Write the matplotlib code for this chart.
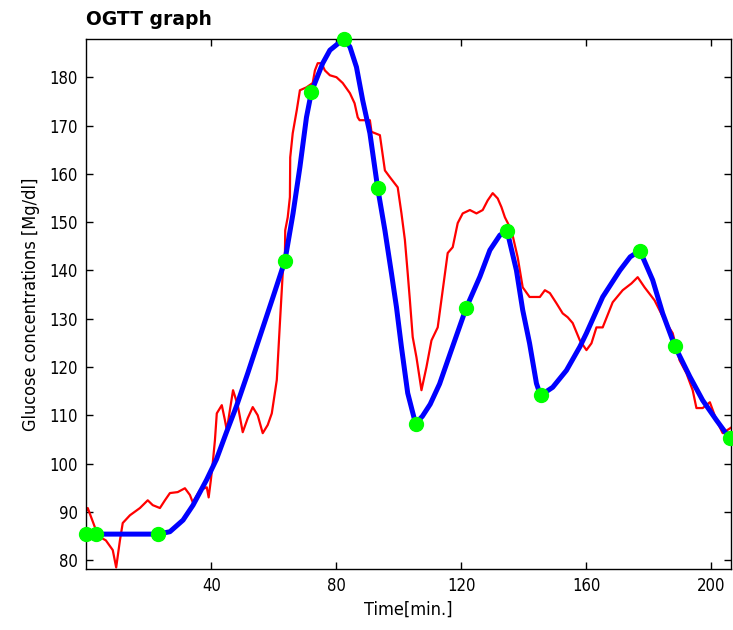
import matplotlib
matplotlib.use('Agg')
import matplotlib.pyplot as plt
from matplotlib import font_manager

# measured glucose trace (red)
time_meas = [0.2, 0.4, 2.7, 4.3, 6.2, 8.4, 9.5, 10.7, 11.6, 13.9, 17.1, 19.6, 21.2, 23.5,
             25.1, 26.7, 29.2, 31.5, 33.1, 34.0, 36.3, 38.5, 39.1, 39.8, 40.4, 41.1, 41.7,
             43.3, 44.3, 44.9, 45.9, 46.9, 48.4, 50.0, 51.6, 53.2, 54.8, 56.4, 58.0, 59.3,
             60.9, 61.9, 62.8, 63.5, 63.6, 64.4, 65.1, 65.2, 66.0, 67.3, 68.3, 70.4, 72.4,
             73.1, 74.0, 75.2, 76.3, 77.9, 80.0, 82.0, 84.3, 85.8, 86.8, 87.4, 90.7, 91.2,
             93.9, 95.5, 97.1, 99.6, 100.8, 101.9, 102.8, 103.5, 104.4, 105.6, 107.2, 108.8,
             110.4, 112.4, 114.0, 115.6, 117.2, 118.8, 120.4, 122.7, 124.8, 126.8, 128.4,
             130.0, 131.6, 132.8, 133.9, 136.0, 138.0, 139.6, 141.8, 145.1, 146.7, 148.3,
             150.4, 152.4, 154.0, 155.6, 157.9, 160.0, 161.6, 163.2, 165.2, 168.4, 171.6,
             174.4, 176.4, 178.6, 181.8, 185.0, 187.6, 189.8, 192.0, 194.0, 195.2, 197.2,
             199.5, 201.6, 203.6, 206.4]
gluc_meas = [90.4, 90.8, 86.8, 84.8, 84.1, 82.1, 78.5, 84.1, 87.7, 89.3, 90.8, 92.4, 91.4, 90.8,
             92.4, 93.9, 94.1, 94.9, 93.5, 92.0, 94.5, 95.1, 93.0, 96.6, 100.1, 104.8, 110.4,
             112.1, 109.0, 106.9, 111.1, 115.2, 112.1, 106.5, 109.4, 111.7, 110.0, 106.3, 108.0, 110.4,
             117.3, 129.1, 139.4, 142.7, 148.3, 151.0, 155.2, 163.4, 168.4, 173.2, 177.3, 177.9, 178.8,
             181.4, 182.9, 182.9, 181.4, 180.4, 180.0, 178.8, 176.7, 174.6, 171.7, 171.1, 171.1, 168.7,
             168.0, 160.7, 159.3, 157.2, 151.8, 146.3, 139.4, 133.8, 126.2, 122.0, 115.2, 120.0,
             125.5, 128.2, 135.9, 143.6, 144.8, 149.8, 151.8, 152.5, 151.8, 152.5, 154.5,
             156.0, 154.9, 153.1, 151.0, 148.3, 142.7, 136.5, 134.5, 134.5, 135.9, 135.3,
             133.2, 131.1, 130.3, 129.1, 125.5, 123.5, 124.9, 128.2, 128.2, 133.4, 135.9,
             137.3, 138.6, 136.5, 133.8, 129.7, 127.0, 121.4, 118.7, 115.2, 111.5, 111.5,
             112.7, 109.0, 106.3, 107.5]

# fitted curve (blue)
time_fit = [0, 3, 23, 26.7, 30.9, 34.1, 38.4, 41.6, 44.8, 48, 51.6, 54.4, 59.7, 63.5, 66.1,
            68.3, 70.4, 72, 75.6, 77.9, 82.3, 84.3, 86.4, 88.4, 90.7, 93.2, 95.5, 97.6, 99.2,
            100.8, 102.8, 105.3, 107.5, 110, 113, 116.5, 121.5, 125.9, 129.1, 132.3, 134.6,
            137.6, 139.6, 141.8, 144, 145.3, 149.2, 153.6, 157.9, 160, 165.2, 170.7, 174,
            177.1, 181.2, 184.4, 188.3, 193.1, 197.2, 201.6, 205.9]
gluc_fit = [85.4, 85.4, 85.4, 85.9, 88.3, 91.4, 96.6, 100.9, 106.5, 111.9, 118.7, 124.2, 134.5, 142, 151.8,
            161.4, 171.7, 177, 182.9, 185.6, 187.9, 186.3, 182.1, 175.2, 168.4, 157, 148.3, 139.4, 132.4,
            124.1, 114.6, 108.3, 109.8, 112.3, 116.5, 123, 132.2, 138.7, 144.2, 147.3, 148.2,
            140, 131.8, 124.9, 116.6, 114.1, 115.8, 119.3, 124.2, 127, 134.5, 140, 142.8,
            144.1, 138, 131.1, 124.3, 118, 113.1, 109, 105.2]

# sample points (green)
time_pts = [0, 3, 23, 63.5, 72, 82.3, 93.2, 105.3, 121.5, 134.6, 145.3, 177.1, 188.3, 205.9]
gluc_pts = [85.4, 85.4, 85.4, 142, 177, 187.9, 157, 108.3, 132.2, 148.2, 114.1, 144.1, 124.3, 105.2]

xticks = [40, 80, 120, 160, 200]
yticks = [80, 90, 100, 110, 120, 130, 140, 150, 160, 170, 180]

# pick a narrow face for the axis text if one is around
fonts = font_manager.fontManager.ttflist
names = {f.name for f in fonts}
if 'Liberation Sans Narrow' in names:
    tick_font = dict(family='Liberation Sans Narrow', size=13)
    label_font = dict(family='Liberation Sans Narrow', size=15)
elif any(f.name == 'DejaVu Sans' and f.stretch == 'condensed' for f in fonts):
    tick_font = dict(family='DejaVu Sans', stretch='condensed', size=12)
    label_font = dict(family='DejaVu Sans', stretch='condensed', size=13)
else:
    tick_font = dict(family='Liberation Sans', size=12)
    label_font = dict(family='Liberation Sans', size=13.5)

fig = plt.figure(figsize=(7.33, 6.30), dpi=100)
ax = fig.add_axes([0.118, 0.097, 0.879, 0.841])

ax.plot(time_meas, gluc_meas, color='#ff0000', lw=1.6)
ax.plot(time_fit, gluc_fit, color='#0000ff', lw=3.6)
ax.plot(time_pts, gluc_pts, 'o', color='#00ff00', ms=10, mec='#00ff00', clip_on=False, zorder=5)

ax.set_xlim(0, 206.2)
ax.set_ylim(78.2, 187.9)
ax.set_xticks(xticks)
ax.set_yticks(yticks)
ax.tick_params(direction='in', length=5, width=1, top=True, right=True, pad=6)
for lab in ax.get_xticklabels() + ax.get_yticklabels():
    lab.set_fontproperties(font_manager.FontProperties(**tick_font))
for s in ax.spines.values():
    s.set_linewidth(1)

ax.set_xlabel('Time[min.]', fontproperties=font_manager.FontProperties(**label_font), labelpad=4)
ax.set_ylabel('Glucose concentrations [Mg/dl]', fontproperties=font_manager.FontProperties(**label_font), labelpad=7)
ax.set_title('OGTT graph', loc='left', fontweight='bold', fontsize=13.5, pad=10)

fig.savefig('out.png', dpi=100)
